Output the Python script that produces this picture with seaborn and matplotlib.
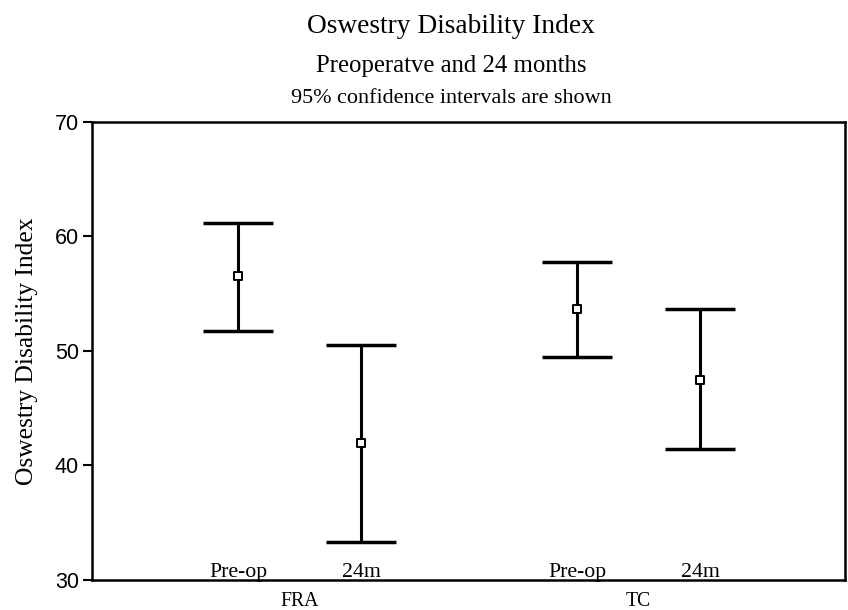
import numpy as np
import pandas as pd
import matplotlib
matplotlib.use("Agg")
import matplotlib.pyplot as plt
import seaborn as sns

# --------------------------------------------------
# DATA
# --------------------------------------------------

groups = ["FRA", "FRA", "TC", "TC"]
times = ["Pre-op", "24m", "Pre-op", "24m"]
means = [56.55, 42.0, 53.7, 47.5]
ci_low = [51.75, 33.35, 49.45, 41.45]
ci_high = [61.15, 50.5, 57.75, 53.7]
y_ticks = [30, 40, 50, 60, 70]

positions = [0.0, 1.0, 2.76, 3.76]

df = pd.DataFrame({
    "group": groups,
    "time": times,
    "mean": means,
    "low": ci_low,
    "high": ci_high,
    "x": positions,
})

# --------------------------------------------------
# STYLE
# --------------------------------------------------

sns.set_theme(style="white")
plt.rcParams["font.family"] = ["Liberation Serif", "DejaVu Serif"]
plt.rcParams["text.color"] = "black"
plt.rcParams["axes.labelcolor"] = "black"
plt.rcParams["ytick.color"] = "black"

fig = plt.figure(figsize=(8.48, 6.10), dpi=100)
ax = fig.add_axes([92 / 848, 1 - 580 / 610, (845 - 92) / 848, (580 - 122) / 610])

# --------------------------------------------------
# ERROR BARS + MEANS
# --------------------------------------------------

ax.errorbar(
    df["x"],
    df["mean"],
    yerr=[df["mean"] - df["low"], df["high"] - df["mean"]],
    fmt="none",
    ecolor="black",
    elinewidth=2.2,
    capsize=25.5,
    capthick=2.5,
    zorder=2
)

sns.scatterplot(
    data=df,
    x="x",
    y="mean",
    marker="s",
    s=30,
    facecolor="white",
    edgecolor="black",
    linewidth=1.4,
    zorder=3,
    ax=ax
)

# --------------------------------------------------
# AXES
# --------------------------------------------------

ax.set_xlim(-1.19, 4.94)
ax.set_ylim(30, 70)
ax.set_yticks(y_ticks)
ax.set_yticklabels([str(t) for t in y_ticks], family="Liberation Sans", fontsize=15.5)
ax.set_xticks([])
ax.set_xlabel("")
ax.set_ylabel("Oswestry Disability Index", fontsize=18.4, labelpad=12)

ax.tick_params(axis="y", direction="out", length=6.5, width=1.5, left=True,
               color="black", pad=3)

for side in ["left", "right", "top", "bottom"]:
    ax.spines[side].set_visible(True)
    ax.spines[side].set_color("black")
    ax.spines[side].set_linewidth(1.8)

# time labels inside the axes, group labels below
for _, row in df.iterrows():
    ax.text(row["x"], 30.25, row["time"], ha="center", va="baseline", fontsize=15.7)

for g in ["FRA", "TC"]:
    xs = df.loc[df["group"] == g, "x"]
    ax.text(xs.mean(), 27.7, g, ha="center", va="baseline", fontsize=14.2)

# --------------------------------------------------
# TITLES
# --------------------------------------------------

cx = 451 / 848
fig.text(cx, 1 - 33 / 610, "Oswestry Disability Index",
         ha="center", va="baseline", fontsize=19.7)
fig.text(cx, 1 - 72 / 610, "Preoperatve and 24 months",
         ha="center", va="baseline", fontsize=17.8)
fig.text(cx, 1 - 103 / 610, "95% confidence intervals are shown",
         ha="center", va="baseline", fontsize=15.9)

fig.savefig("out.png", dpi=100)
